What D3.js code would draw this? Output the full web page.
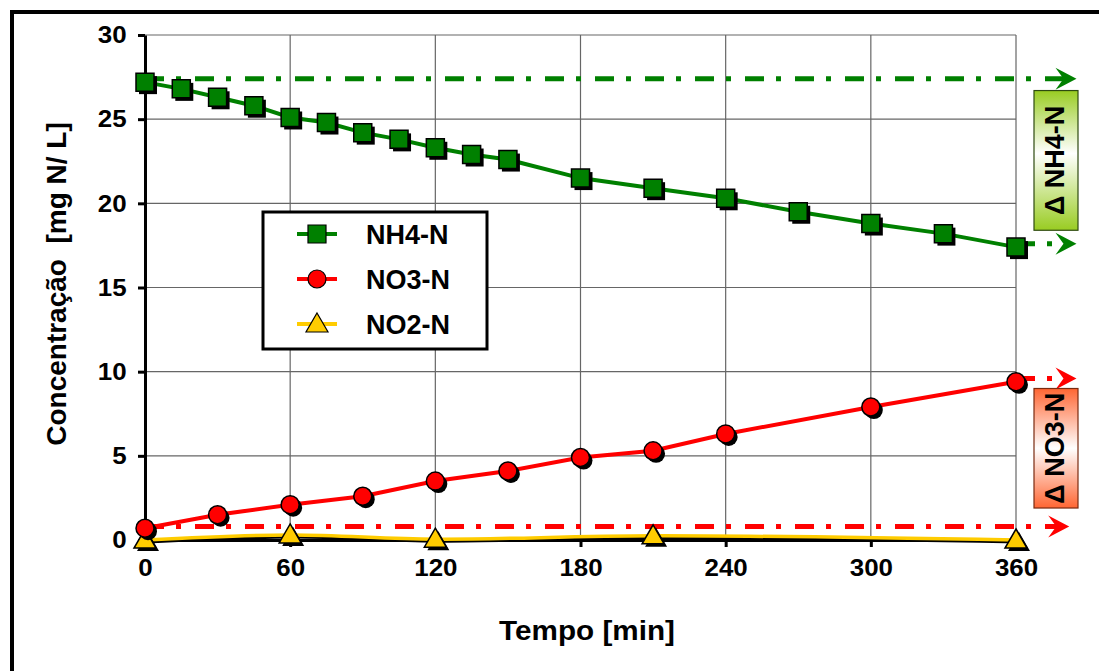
<!DOCTYPE html>
<html>
<head>
<meta charset="utf-8">
<script src="https://cdn.jsdelivr.net/npm/d3@7/dist/d3.min.js"></script>
<style>
  html, body { margin: 0; padding: 0; background: #fff; }
  svg { display: block; font-family: "Liberation Sans", Arial, sans-serif; font-weight: bold; }
</style>
</head>
<body>
<svg id="chart" width="1099" height="671"></svg>
<script>
// series (time in min, concentration in mg N/L)
const nh4Time = [0, 15, 30, 45, 60, 75, 90, 105, 120, 135, 150, 180, 210, 240, 270, 300, 330, 360]
const nh4Vals = [27.2, 26.8, 26.3, 25.8, 25.1, 24.8, 24.2, 23.8, 23.3, 22.9, 22.6, 21.5, 20.9, 20.3, 19.5, 18.8, 18.2, 17.4]
const no3Time = [0, 30, 60, 90, 120, 150, 180, 210, 240, 300, 360]
const no3Vals = [0.7, 1.5, 2.1, 2.6, 3.5, 4.1, 4.9, 5.3, 6.3, 7.9, 9.4]
const no2Time = [0, 60, 120, 210, 360]
const no2Vals = [0, 0.3, 0.05, 0.25, 0]

const xTicks = [0, 60, 120, 180, 240, 300, 360]
const yTicks = [0, 5, 10, 15, 20, 25, 30]
const seriesNames = ['NH4-N', 'NO3-N', 'NO2-N']

// delta annotation lines: [from t, to t, level]
const nh4Delta = [[0, 385, 27.4], [360, 385, 17.6]]
const no3Delta = [[0, 382, 0.8], [360, 385, 9.6]]
// delta boxes: [label, top level, bottom level]
const deltaBoxes = [['Δ NH4-N', 26.7, 18.4, 'gNH4', '#2e4a10'], ['Δ NO3-N', 9.0, 1.9, 'gNO3', '#7a2a10']]

const plotL = 145, plotR = 1016, plotT = 35, plotB = 540
const svg = d3.select('#chart')

const x = d3.scaleLinear().domain([0, 360]).range([plotL, plotR])
const y = d3.scaleLinear().domain([0, 30]).range([plotB, plotT])

// gradients for the delta boxes
const defs = svg.append('defs')
const g1 = defs.append('linearGradient').attr('id', 'gNH4').attr('x1', 0).attr('y1', 0).attr('x2', 0).attr('y2', 1)
g1.append('stop').attr('offset', '0').attr('stop-color', '#99cc22')
g1.append('stop').attr('offset', '0.45').attr('stop-color', '#ffffff')
g1.append('stop').attr('offset', '1').attr('stop-color', '#99cc22')
const g2 = defs.append('linearGradient').attr('id', 'gNO3').attr('x1', 0).attr('y1', 0).attr('x2', 0).attr('y2', 1)
g2.append('stop').attr('offset', '0').attr('stop-color', '#ff6633')
g2.append('stop').attr('offset', '0.5').attr('stop-color', '#ffffff')
g2.append('stop').attr('offset', '1').attr('stop-color', '#ff6633')

// outer frame (open at right and bottom like the picture)
svg.append('rect')
  .attr('x', 12).attr('y', 12).attr('width', 1200).attr('height', 800)
  .attr('fill', 'none').attr('stroke', '#000').attr('stroke-width', 4)

// grid
svg.append('g').selectAll('line').data(xTicks.slice(1)).join('line')
  .attr('x1', d => x(d)).attr('x2', d => x(d)).attr('y1', plotT).attr('y2', plotB)
  .attr('stroke', '#666').attr('stroke-width', 1.2)
svg.append('g').selectAll('line').data(yTicks.slice(1)).join('line')
  .attr('x1', plotL).attr('x2', plotR).attr('y1', d => y(d)).attr('y2', d => y(d))
  .attr('stroke', '#666').attr('stroke-width', 1.2)

// axes
const yAxis = svg.append('g').attr('transform', `translate(${plotL},0)`)
  .call(d3.axisLeft(y).tickValues(yTicks).tickSize(7).tickPadding(12).tickSizeOuter(0))
const xAxis = svg.append('g').attr('transform', `translate(0,${plotB})`)
  .call(d3.axisBottom(x).tickValues(xTicks).tickSize(7).tickPadding(12).tickSizeOuter(0))
for (const ax of [xAxis, yAxis]) {
  ax.select('.domain').attr('stroke', '#000').attr('stroke-width', 3)
  ax.selectAll('.tick line').attr('stroke', '#000').attr('stroke-width', 3)
  ax.selectAll('text').attr('fill', '#000').style('font-size', '24px').style('font-weight', 'bold')
    .style('font-family', '"Liberation Sans", Arial, sans-serif')
}
// the picture's labels are a bit wide, stretch them
xAxis.selectAll('text').attr('transform', 'scale(1.08,1)')
yAxis.selectAll('text').attr('x', -17).attr('transform', 'scale(1.08,1)')

svg.append('text').attr('transform', 'translate(587,640) scale(1.06,1)').attr('text-anchor', 'middle')
  .style('font-size', '28px').text('Tempo [min]')
svg.append('text').attr('transform', 'translate(66,284) rotate(-90)').attr('text-anchor', 'middle')
  .style('font-size', '28px').attr('xml:space', 'preserve').text('Concentração  [mg N/ L]')

// delta dash-dot arrows
function arrow (rows, color) {
  const g = svg.append('g')
  g.selectAll('line').data(rows).join('line')
    .attr('x1', d => x(d[0])).attr('x2', d => x(d[1]) - 8)
    .attr('y1', d => y(d[2])).attr('y2', d => y(d[2]))
    .attr('stroke', color).attr('stroke-width', 5)
    .attr('stroke-dasharray', '19,12,5,14')
  g.selectAll('path').data(rows).join('path')
    .attr('transform', d => `translate(${x(d[1])},${y(d[2])})`)
    .attr('d', 'M0,0 L-21,-11 L-13,0 L-21,11 Z')
    .attr('fill', color)
}
arrow(nh4Delta, '#008000')
arrow(no3Delta, '#ff0000')

// delta boxes
const boxes = svg.append('g').selectAll('g').data(deltaBoxes).join('g')
boxes.append('rect')
  .attr('x', x(360) + 18).attr('width', 44)
  .attr('y', d => y(d[1])).attr('height', d => y(d[2]) - y(d[1]))
  .attr('fill', d => `url(#${d[3]})`).attr('stroke', d => d[4]).attr('stroke-width', 1.2)
boxes.append('text')
  .attr('transform', d => `translate(${x(360) + 48},${(y(d[1]) + y(d[2])) / 2}) rotate(-90)`)
  .attr('text-anchor', 'middle').style('font-size', '27px').text(d => d[0])

// series lines
const line = d3.line().x(d => x(d[0])).y(d => y(d[1]))
const smooth = d3.line().x(d => x(d[0])).y(d => y(d[1])).curve(d3.curveCatmullRom.alpha(0.5))
const nh4 = d3.zip(nh4Time, nh4Vals)
const no3 = d3.zip(no3Time, no3Vals)
const no2 = d3.zip(no2Time, no2Vals)

svg.append('path').datum(no2).attr('d', smooth).attr('transform', 'translate(2,2)')
  .attr('fill', 'none').attr('stroke', '#000').attr('stroke-width', 3)
svg.append('path').datum(no2).attr('d', smooth)
  .attr('fill', 'none').attr('stroke', '#ffcc00').attr('stroke-width', 3.5)
svg.append('path').datum(no3).attr('d', line)
  .attr('fill', 'none').attr('stroke', '#ff0000').attr('stroke-width', 4)
svg.append('path').datum(nh4).attr('d', line)
  .attr('fill', 'none').attr('stroke', '#008000').attr('stroke-width', 4)

// marker shapes
const squarePath = 'M-9,-9 L9,-9 L9,9 L-9,9 Z'
const trianglePath = 'M0,-11 L11,8 L-11,8 Z'
function markers (data, drawShape, fill) {
  const g = svg.append('g')
  const sh = g.selectAll('.sh').data(data).join('g').attr('class', 'sh')
    .attr('transform', d => `translate(${x(d[0]) + 3},${y(d[1]) + 3})`)
  drawShape(sh).attr('fill', '#000')
  const mk = g.selectAll('.mk').data(data).join('g').attr('class', 'mk')
    .attr('transform', d => `translate(${x(d[0])},${y(d[1])})`)
  drawShape(mk).attr('fill', fill).attr('stroke', '#000').attr('stroke-width', 1.5)
}
const sq = s => s.append('path').attr('d', squarePath)
const ci = s => s.append('circle').attr('r', 9)
const tr = s => s.append('path').attr('d', trianglePath)
markers(no2, tr, '#ffcc00')
markers(no3, ci, '#ff0000')
markers(nh4, sq, '#008000')

// legend
const legend = svg.append('g')
legend.append('rect').attr('x', 263).attr('y', 212).attr('width', 224).attr('height', 137)
  .attr('fill', '#fff').attr('stroke', '#000').attr('stroke-width', 3)
const legColors = ['#008000', '#ff0000', '#ffcc00']
const legShapes = [sq, ci, tr]
const rows = legend.selectAll('.row').data(seriesNames).join('g').attr('class', 'row')
  .attr('transform', (d, i) => `translate(0,${234 + i * 45})`)
rows.append('line').attr('x1', 297).attr('x2', 337)
  .attr('stroke', (d, i) => legColors[i]).attr('stroke-width', 4)
rows.each(function (d, i) {
  const m = d3.select(this).append('g').attr('transform', 'translate(317,0)')
  legShapes[i](m).attr('fill', legColors[i]).attr('stroke', '#000').attr('stroke-width', 1.2)
})
rows.append('text').attr('x', 366).attr('y', 10).style('font-size', '27px').text(d => d)
</script>
</body>
</html>
